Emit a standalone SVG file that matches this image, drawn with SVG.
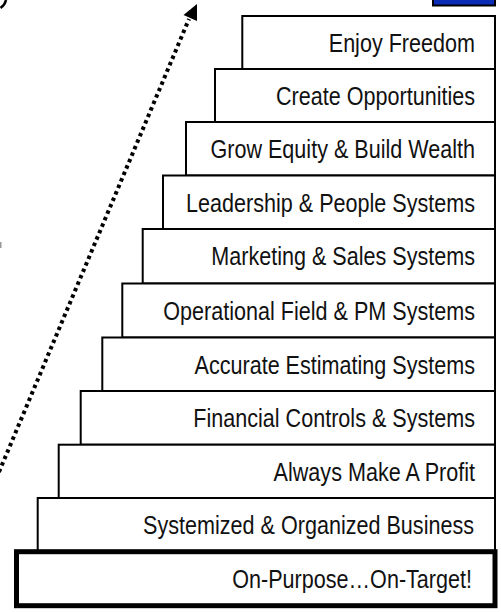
<svg xmlns="http://www.w3.org/2000/svg" width="501" height="612" viewBox="0 0 501 612">
<style>
.step rect{fill:#fff;stroke:#000;stroke-width:2}
.step text{font-family:"Liberation Sans",Arial,sans-serif;font-size:25px;fill:#111;text-anchor:end}
#base rect{stroke-width:5}
</style>
<rect id="bluebar" x="433" y="-4" width="62" height="9.5" fill="#0B2DB5" stroke="#000" stroke-width="2"/>
<path d="M0.5,8 Q5,5 6,0" fill="none" stroke="#000" stroke-width="2.5"/>
<rect x="0" y="242" width="1.5" height="6" fill="#999"/>
<g id="connectors">
<line x1="-1" y1="472" x2="189" y2="19" stroke="#000" stroke-width="4" stroke-dasharray="3.5 3.5"/>
<polygon points="197,4 183.5,15 197,21" fill="#000"/>
</g>
<g id="s1" class="step"><rect x="242.3" y="16" width="252.7" height="53"/><text transform="translate(475,52) scale(0.863,1)">Enjoy Freedom</text></g>
<g id="s2" class="step"><rect x="215" y="69" width="280" height="53"/><text transform="translate(475,105) scale(0.863,1)">Create Opportunities</text></g>
<g id="s3" class="step"><rect x="186" y="122" width="309" height="53.5"/><text transform="translate(475,158) scale(0.863,1)">Grow Equity &amp; Build Wealth</text></g>
<g id="s4" class="step"><rect x="163" y="175.5" width="332" height="53.5"/><text transform="translate(475,211.5) scale(0.863,1)">Leadership &amp; People Systems</text></g>
<g id="s5" class="step"><rect x="142.7" y="229" width="352.3" height="54.5"/><text transform="translate(475,265) scale(0.863,1)">Marketing &amp; Sales Systems</text></g>
<g id="s6" class="step"><rect x="122.3" y="283.5" width="372.7" height="54"/><text transform="translate(475,319.5) scale(0.863,1)">Operational Field &amp; PM Systems</text></g>
<g id="s7" class="step"><rect x="102.3" y="337.5" width="392.7" height="53.5"/><text transform="translate(475,373.5) scale(0.863,1)">Accurate Estimating Systems</text></g>
<g id="s8" class="step"><rect x="80.7" y="391" width="414.3" height="53.7"/><text transform="translate(475,427) scale(0.863,1)">Financial Controls &amp; Systems</text></g>
<g id="s9" class="step"><rect x="58.7" y="444.7" width="436.3" height="53.3"/><text transform="translate(475,480.7) scale(0.863,1)">Always Make A Profit</text></g>
<g id="s10" class="step"><rect x="37.7" y="498" width="457.3" height="53.7"/><text transform="translate(474,534) scale(0.863,1)">Systemized &amp; Organized Business</text></g>
<g id="base" class="step"><rect x="16.5" y="551.7" width="478.5" height="54"/><text transform="translate(472,588) scale(0.863,1)">On-Purpose…On-Target!</text></g>
</svg>
